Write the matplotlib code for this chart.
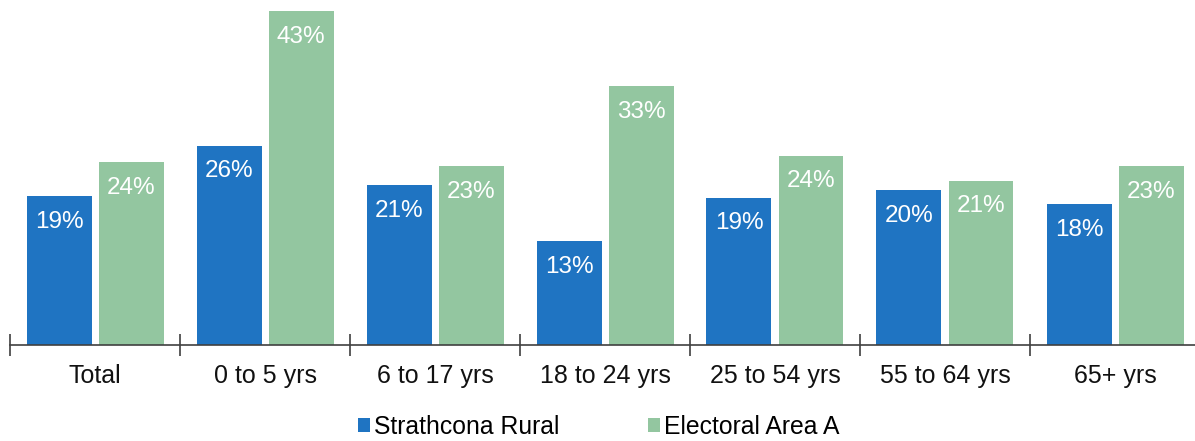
import matplotlib
matplotlib.use("Agg")
import matplotlib.pyplot as plt
import numpy as np

categories = ["Total", "0 to 5 yrs", "6 to 17 yrs", "18 to 24 yrs", "25 to 54 yrs", "55 to 64 yrs", "65+ yrs"]
strathcona = [19.2, 25.7, 20.6, 13.4, 19.0, 20.0, 18.2]
electoral = [23.6, 43.1, 23.1, 33.4, 24.4, 21.2, 23.1]
labels_s = ["19%", "26%", "21%", "13%", "19%", "20%", "18%"]
labels_e = ["24%", "43%", "23%", "33%", "24%", "21%", "23%"]
series_names = ["Strathcona Rural", "Electoral Area A"]

blue = "#1F74C2"
green = "#93C6A0"

plt.rcParams['font.family'] = ['Liberation Sans', 'DejaVu Sans']

W, H = 1195, 441
fig = plt.figure(figsize=(W/100, H/100), dpi=100)
ax = fig.add_axes([10/W, 96/H, 1190/W, 345/H])

x = np.arange(len(categories))
bw = 65/170
gap = 7/170
off = (bw + gap)/2
b1 = ax.bar(x - off, strathcona, bw, color=blue, label=series_names[0])
b2 = ax.bar(x + off, electoral, bw, color=green, label=series_names[1])

for bars, labs in ((b1, labels_s), (b2, labels_e)):
    for r, l in zip(bars, labs):
        ax.text(r.get_x() + r.get_width()/2, r.get_height() - 3.3, l,
                ha='center', va='center', color='white', fontsize=17.5)

ax.set_xlim(-0.5, 6.5)
ax.set_ylim(0, 345/7.75)
for s in ['top', 'right', 'left']:
    ax.spines[s].set_visible(False)
ax.spines['bottom'].set_color('#404040')
ax.spines['bottom'].set_linewidth(1.2)
ax.set_yticks([])
ax.set_xticks(x)
ax.set_xticklabels(categories, fontsize=18, color='#111111')
ax.tick_params(axis='x', which='major', length=0, pad=13.5)
ax.set_xticks(np.arange(-0.5, 7.0, 1.0), minor=True)
ax.tick_params(axis='x', which='minor', length=16, direction='inout', color='#404040', width=1.2)

fig.legend(handles=[b1, b2], labels=series_names, loc='center', bbox_to_anchor=(0.501, 0.032),
           ncol=2, frameon=False, fontsize=17.8, handlelength=0.5, handleheight=0.5,
           handletextpad=0.15, columnspacing=3.6, borderpad=0)

fig.savefig("out.png", dpi=100)
